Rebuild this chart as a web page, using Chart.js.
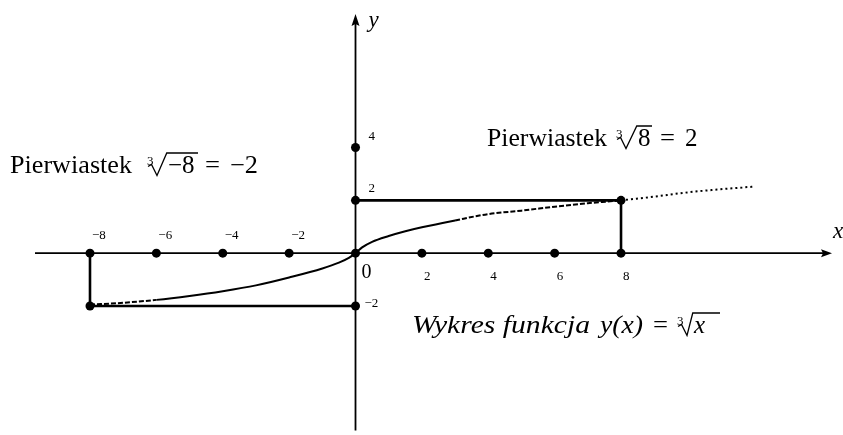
<!DOCTYPE html>
<html>
<head>
<meta charset="utf-8">
<script src="https://cdn.jsdelivr.net/npm/chart.js@4/dist/chart.umd.min.js"></script>
<style>
    html, body { margin: 0; padding: 0; background: #fff; }
    #wrap { width: 843px; height: 435px; position: relative; }
</style>
</head>
<body>
<div id="wrap"><canvas id="rootChart"></canvas></div>
<script>
// values
const tickValues = [-8, -6, -4, -2, 0, 2, 4, 6, 8];
const yTickValues = [4, 2, -2];
const curveX = [-8, -7, -6, -5, -4, -3, -2, -1, -0.5, -0.2, 0, 0.2, 0.5, 1, 1.5, 2, 3, 4, 5, 6, 7, 8, 9, 10, 11, 12];
const curveY = [-1.95, -1.88, -1.77, -1.62, -1.44, -1.22, -0.92, -0.58, -0.36, -0.18, 0, 0.22, 0.43, 0.65, 0.83, 0.98, 1.24, 1.48, 1.61, 1.76, 1.89, 2.0, 2.14, 2.30, 2.42, 2.52];
const negRoot = [-8, -2];   // cbrt(-8) = -2
const posRoot = [8, 2];     // cbrt(8) = 2

const FONT = '"Liberation Serif", "DejaVu Serif", serif';

const curve = curveX.map((x, i) => ({ x, y: curveY[i] }));
const leftBox = [{ x: negRoot[0], y: 0 }, { x: negRoot[0], y: negRoot[1] }, { x: 0, y: negRoot[1] }];
const rightBox = [{ x: 0, y: posRoot[1] }, { x: posRoot[0], y: posRoot[1] }, { x: posRoot[0], y: 0 }];
const dots = tickValues.map(x => ({ x, y: 0 }))
    .concat(yTickValues.map(y => ({ x: 0, y })))
    .concat([{ x: negRoot[0], y: negRoot[1] }, { x: posRoot[0], y: posRoot[1] }]);

// draws text; if width is given the text is stretched sideways to fill it
function text(ctx, s, x, y, size, italic, width) {
    ctx.font = (italic ? 'italic ' : '') + size + 'px ' + FONT;
    ctx.textAlign = 'left';
    ctx.textBaseline = 'alphabetic';
    const w = ctx.measureText(s).width;
    if (width) {
        ctx.save();
        ctx.translate(x, y);
        ctx.scale(width / w, 1);
        ctx.fillText(s, 0, 0);
        ctx.restore();
        return x + width;
    }
    ctx.fillText(s, x, y);
    return x + w;
}

// radical sign with index 3, radicand drawn under an overline
function root(ctx, x, base, size, rad, radX, italic, overEnd) {
    text(ctx, '3', x + 0.04 * size, base - 0.34 * size, 13);
    const top = base - 0.8 * size;
    text(ctx, rad, radX, base, size, italic);
    ctx.save();
    ctx.lineWidth = 1.3;
    ctx.beginPath();
    ctx.moveTo(x + 0.08 * size, base - 0.26 * size);
    ctx.lineTo(x + 0.22 * size, base - 0.34 * size);
    ctx.lineTo(x + 0.44 * size, base + 0.1 * size);
    ctx.lineTo(radX - 0.05 * size, top);
    ctx.lineTo(overEnd, top);
    ctx.stroke();
    ctx.restore();
}

const axesPlugin = {
    id: 'mathAxes',
    beforeDatasetsDraw(chart) {
        const { ctx, chartArea: a, scales: { x, y } } = chart;
        const ox = x.getPixelForValue(0);
        const oy = y.getPixelForValue(0);
        ctx.save();
        ctx.strokeStyle = '#000';
        ctx.fillStyle = '#000';
        ctx.lineWidth = 1.8;
        ctx.beginPath();
        ctx.moveTo(a.left, oy);
        ctx.lineTo(a.right - 6, oy);
        ctx.moveTo(ox, a.bottom);
        ctx.lineTo(ox, a.top + 6);
        ctx.stroke();
        // arrow heads
        ctx.beginPath();
        ctx.moveTo(a.right, oy);
        ctx.lineTo(a.right - 11, oy - 4);
        ctx.lineTo(a.right - 9, oy);
        ctx.lineTo(a.right - 11, oy + 4);
        ctx.closePath();
        ctx.moveTo(ox, a.top);
        ctx.lineTo(ox - 4, a.top + 12);
        ctx.lineTo(ox, a.top + 10);
        ctx.lineTo(ox + 4, a.top + 12);
        ctx.closePath();
        ctx.fill();
        ctx.restore();
    },
    afterDraw(chart) {
        const { ctx, scales: { x, y } } = chart;
        const ox = x.getPixelForValue(0);
        const oy = y.getPixelForValue(0);
        ctx.save();
        ctx.fillStyle = '#000';
        ctx.strokeStyle = '#000';

        // tick labels
        tickValues.forEach(v => {
            if (v === 0) return;
            const px = x.getPixelForValue(v);
            const s = v < 0 ? '\u2212' + (-v) : String(v);
            text(ctx, s, px + 2, v < 0 ? oy - 14 : oy + 27, 13);
        });
        yTickValues.forEach(v => {
            const py = y.getPixelForValue(v);
            const s = v < 0 ? '\u2212' + (-v) : String(v);
            text(ctx, s, ox + (v < 0 ? 9 : 13), py - 8 + (v < 0 ? 9 : 0), 13);
        });
        text(ctx, '0', ox + 6, oy + 25, 20);

        // axis names
        text(ctx, 'y', ox + 13, 27, 23, true);
        text(ctx, 'x', 833, oy - 15, 23, true);

        // annotations
        text(ctx, 'Pierwiastek', 10, 173, 25, false, 122);
        root(ctx, 146, 173, 25, '\u22128', 168, false, 198);
        text(ctx, '=', 205, 173, 25, false, 15);
        text(ctx, '\u22122', 230, 173, 25, false, 28);

        text(ctx, 'Pierwiastek', 487, 146, 25, false, 120);
        root(ctx, 615, 146, 25, '8', 638, false, 652);
        text(ctx, '=', 660, 146, 25, false, 15);
        text(ctx, '2', 685, 146, 25);

        text(ctx, 'Wykres funkcja', 412, 333, 25, true, 178);
        text(ctx, 'y(x)', 600, 333, 25, true, 43);
        text(ctx, '=', 653, 333, 25, false, 15);
        root(ctx, 676, 333, 25, 'x', 694, true, 720);

        ctx.restore();
    }
};

new Chart(document.getElementById('rootChart'), {
    type: 'scatter',
    data: {
        datasets: [
            {
                label: 'curve',
                data: curve,
                showLine: true,
                borderColor: '#000',
                borderWidth: 2,
                pointRadius: 0,
                cubicInterpolationMode: 'monotone',
                segment: {
                    borderDash: c => {
                        const x0 = c.p0.parsed.x;
                        if (x0 >= 8) return [2, 3];
                        if (x0 >= 3 || x0 < -6) return [5, 2];
                        return undefined;
                    }
                },
                order: 3,
            },
            {
                label: 'left',
                data: leftBox,
                showLine: true,
                borderColor: '#000',
                borderWidth: 2.6,
                pointRadius: 0,
                order: 2,
            },
            {
                label: 'right',
                data: rightBox,
                showLine: true,
                borderColor: '#000',
                borderWidth: 2.6,
                pointRadius: 0,
                order: 2,
            },
            {
                label: 'dots',
                data: dots,
                showLine: false,
                pointRadius: 4.5,
                pointBackgroundColor: '#000',
                pointBorderColor: '#000',
                pointBorderWidth: 0,
                order: 1,
            }
        ]
    },
    options: {
        responsive: true,
        maintainAspectRatio: false,
        animation: false,
        events: [],
        layout: { padding: { left: 35, right: 11, top: 14, bottom: 3 } },
        plugins: {
            legend: { display: false },
            tooltip: { enabled: false }
        },
        scales: {
            x: { type: 'linear', display: false, min: -9.657, max: 14.357 },
            y: { type: 'linear', display: false, min: -6.717, max: 9.057 }
        }
    },
    plugins: [axesPlugin]
});
</script>
</body>
</html>
